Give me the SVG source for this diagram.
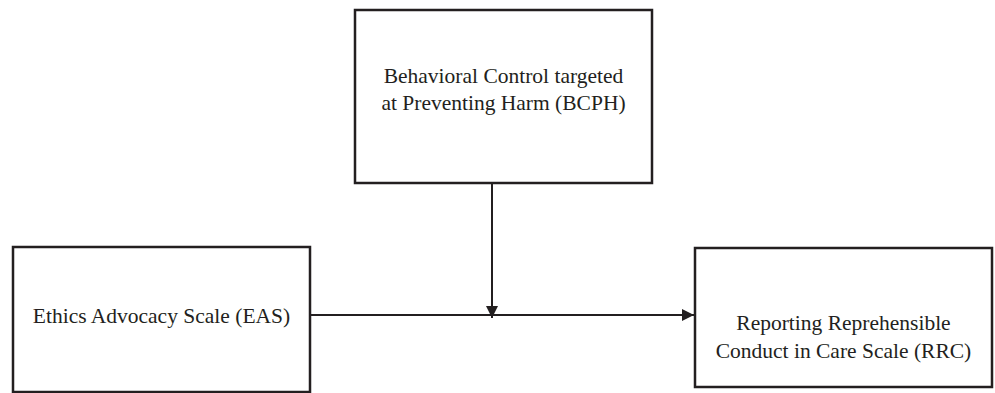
<svg xmlns="http://www.w3.org/2000/svg" width="995" height="393" viewBox="0 0 995 393">
<style>
.box{fill:#fff;stroke:#231f20;stroke-width:2.5}
.lbl{font-family:'Liberation Serif','Times New Roman','DejaVu Serif',serif;font-size:21.5px;fill:#231f20;text-anchor:middle}
.edge{stroke:#231f20;stroke-width:2;fill:none}
</style>
<defs>
<marker id="ah" viewBox="0 0 12 12" refX="12" refY="6" markerWidth="12" markerHeight="12" markerUnits="userSpaceOnUse" orient="auto">
<path d="M0,0 L12,6 L0,12 Z" fill="#231f20"/>
</marker>
</defs>
<rect width="995" height="393" fill="#fff"/>
<g id="bcph">
<rect class="box" x="355" y="10" width="297" height="173"/>
<text class="lbl" x="503.5" y="83">Behavioral Control targeted</text>
<text class="lbl" x="503.5" y="110">at Preventing Harm (BCPH)</text>
</g>
<g id="eas">
<rect class="box" x="13" y="247" width="297" height="145"/>
<text class="lbl" x="161.5" y="323">Ethics Advocacy Scale (EAS)</text>
</g>
<g id="rrc">
<rect class="box" x="695" y="248" width="297" height="139"/>
<text class="lbl" x="843.5" y="330">Reporting Reprehensible</text>
<text class="lbl" x="843.5" y="358">Conduct in Care Scale (RRC)</text>
</g>
<g id="connectors">
<line class="edge" x1="310" y1="315" x2="694" y2="315" marker-end="url(#ah)"/>
<line class="edge" x1="492" y1="183" x2="492" y2="318" marker-end="url(#ah)"/>
</g>
</svg>
